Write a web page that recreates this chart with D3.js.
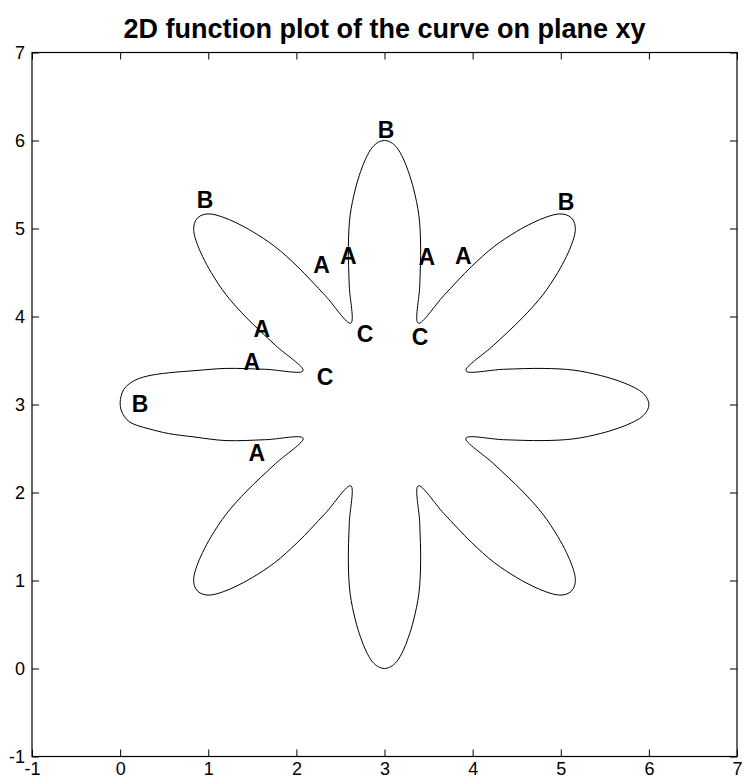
<!DOCTYPE html>
<html>
<head>
<meta charset="utf-8">
<script src="https://cdn.jsdelivr.net/npm/d3@7"></script>
<style>
  html, body { margin: 0; padding: 0; background: #fff; }
  svg { display: block; }
  text { font-family: "Liberation Sans", Arial, Helvetica, sans-serif; }
</style>
</head>
<body>
<svg id="chart" width="744" height="780"></svg>
<script>
// Eight-petal closed curve on the xy plane, traced counter-clockwise
const curveX = [
  3.924, 4.35, 4.80, 5.15, 5.45, 5.65, 5.80, 5.92, 5.98, 6.00, 5.98, 5.92, 5.80, 5.65, 5.45, 5.15, 4.80, 4.35,
  3.924, 4.237, 4.563, 4.796, 4.966, 5.065, 5.128, 5.164, 5.157, 5.121, 5.058, 4.966, 4.831, 4.683, 4.499, 4.245, 3.983, 3.672,
  3.383, 3.40, 3.41, 3.39, 3.33, 3.27, 3.21, 3.14, 3.07, 3.00, 2.93, 2.86, 2.79, 2.73, 2.67, 2.61, 2.59, 2.60,
  2.617, 2.328, 2.017, 1.755, 1.501, 1.317, 1.169, 1.034, 0.942, 0.879, 0.843, 0.836, 0.872, 0.935, 1.034, 1.204, 1.437, 1.763,
  2.076, 1.65, 1.20, 0.85, 0.55, 0.34, 0.20, 0.11, 0.04, 0.01, 0.00, 0.01, 0.05, 0.11, 0.20, 0.34, 0.55, 0.85, 1.20, 1.65,
  2.076, 1.763, 1.437, 1.204, 1.034, 0.935, 0.872, 0.836, 0.843, 0.879, 0.942, 1.034, 1.169, 1.317, 1.501, 1.755, 2.017, 2.328,
  2.617, 2.60, 2.59, 2.61, 2.67, 2.73, 2.79, 2.86, 2.93, 3.00, 3.07, 3.14, 3.21, 3.27, 3.33, 3.39, 3.41, 3.40,
  3.383, 3.672, 3.983, 4.245, 4.499, 4.683, 4.831, 4.966, 5.058, 5.121, 5.157, 5.164, 5.128, 5.065, 4.966, 4.796, 4.563, 4.237
];
const curveY = [
  2.617, 2.60, 2.59, 2.61, 2.67, 2.73, 2.79, 2.86, 2.93, 3.00, 3.07, 3.14, 3.21, 3.27, 3.33, 3.39, 3.41, 3.40,
  3.383, 3.672, 3.983, 4.245, 4.499, 4.683, 4.831, 4.966, 5.058, 5.121, 5.157, 5.164, 5.128, 5.065, 4.966, 4.796, 4.563, 4.237,
  3.924, 4.35, 4.80, 5.15, 5.45, 5.65, 5.80, 5.92, 5.98, 6.00, 5.98, 5.92, 5.80, 5.65, 5.45, 5.15, 4.80, 4.35,
  3.924, 4.237, 4.563, 4.796, 4.966, 5.065, 5.128, 5.164, 5.157, 5.121, 5.058, 4.966, 4.831, 4.683, 4.499, 4.245, 3.983, 3.672,
  3.383, 3.40, 3.41, 3.385, 3.36, 3.33, 3.29, 3.24, 3.17, 3.09, 3.02, 2.94, 2.86, 2.80, 2.76, 2.72, 2.67, 2.63, 2.59, 2.60,
  2.617, 2.328, 2.017, 1.755, 1.501, 1.317, 1.169, 1.034, 0.942, 0.879, 0.843, 0.836, 0.872, 0.935, 1.034, 1.204, 1.437, 1.763,
  2.076, 1.65, 1.20, 0.85, 0.55, 0.35, 0.20, 0.08, 0.02, 0.00, 0.02, 0.08, 0.20, 0.35, 0.55, 0.85, 1.20, 1.65,
  2.076, 1.763, 1.437, 1.204, 1.034, 0.935, 0.872, 0.836, 0.843, 0.879, 0.942, 1.034, 1.169, 1.317, 1.501, 1.755, 2.017, 2.328
];

// Point annotations
const labelText = ["B", "B", "B", "B", "A", "A", "A", "A", "A", "A", "A", "C", "C", "C"];
const labelX = [3.017, 0.963, 5.06, 0.226, 2.287, 2.589, 3.479, 3.894, 1.607, 1.493, 1.55, 2.779, 3.403, 2.325];
const labelY = [6.12, 5.324, 5.30, 3.01, 4.585, 4.684, 4.68, 4.688, 3.855, 3.486, 2.452, 3.80, 3.77, 3.313];

// Axis ticks
const xTicks = [-1, 0, 1, 2, 3, 4, 5, 6, 7];
const yTicks = [-1, 0, 1, 2, 3, 4, 5, 6, 7];

const titleText = "2D function plot of the curve on plane xy";

const svg = d3.select("#chart");
const plotLeft = 32, plotRight = 737, plotTop = 52.5, plotBottom = 756.5;

const x = d3.scaleLinear().domain([-1, 7]).range([plotLeft, plotRight]);
const y = d3.scaleLinear().domain([-1, 7]).range([plotBottom, plotTop]);

svg.append("rect").attr("width", 744).attr("height", 780).attr("fill", "#fff");

// Axes with inward ticks on all four sides; plain hyphen for negatives
const tickLen = 7;
const fmt = d => String(d);
const gx = svg.append("g").attr("transform", `translate(0,${plotBottom})`)
  .call(d3.axisBottom(x).tickValues(xTicks).tickFormat(fmt)
    .tickSizeInner(-tickLen).tickSizeOuter(0).tickPadding(6));
const gy = svg.append("g").attr("transform", `translate(${plotLeft},0)`)
  .call(d3.axisLeft(y).tickValues(yTicks).tickFormat(fmt)
    .tickSizeInner(-tickLen).tickSizeOuter(0).tickPadding(7));
const gt = svg.append("g").attr("transform", `translate(0,${plotTop})`)
  .call(d3.axisTop(x).tickValues(xTicks).tickFormat("").tickSizeInner(-tickLen).tickSizeOuter(0));
const gr = svg.append("g").attr("transform", `translate(${plotRight},0)`)
  .call(d3.axisRight(y).tickValues(yTicks).tickFormat("").tickSizeInner(-tickLen).tickSizeOuter(0));

[gx, gy, gt, gr].forEach(g => {
  g.select(".domain").remove();
  g.selectAll("line").attr("stroke", "#000").attr("stroke-width", 1);
  g.selectAll("text")
    .attr("fill", "#000")
    .style("font-family", "'Liberation Sans', Arial, Helvetica, sans-serif")
    .style("font-size", "18px");
});

// Axes box
svg.append("rect")
  .attr("x", plotLeft).attr("y", plotTop)
  .attr("width", plotRight - plotLeft).attr("height", plotBottom - plotTop)
  .attr("fill", "none").attr("stroke", "#000").attr("stroke-width", 1.2);

// Curve
const pts = curveX.map((v, i) => [v, curveY[i]]);
const line = d3.line()
  .x(d => x(d[0]))
  .y(d => y(d[1]))
  .curve(d3.curveCatmullRomClosed.alpha(0.5));

svg.append("path")
  .attr("d", line(pts))
  .attr("fill", "none")
  .attr("stroke", "#000")
  .attr("stroke-width", 1);

// Annotations
svg.append("g").selectAll("text")
  .data(labelText.map((t, i) => ({ t, px: labelX[i], py: labelY[i] })))
  .join("text")
  .attr("x", d => x(d.px))
  .attr("y", d => y(d.py))
  .attr("text-anchor", "middle")
  .attr("dominant-baseline", "central")
  .style("font-weight", "bold")
  .style("font-size", "23px")
  .attr("fill", "#000")
  .text(d => d.t);

// Title
svg.append("text")
  .attr("x", (plotLeft + plotRight) / 2)
  .attr("y", 38)
  .attr("text-anchor", "middle")
  .style("font-weight", "bold")
  .style("font-size", "27px")
  .attr("fill", "#000")
  .text(titleText);
</script>
</body>
</html>
